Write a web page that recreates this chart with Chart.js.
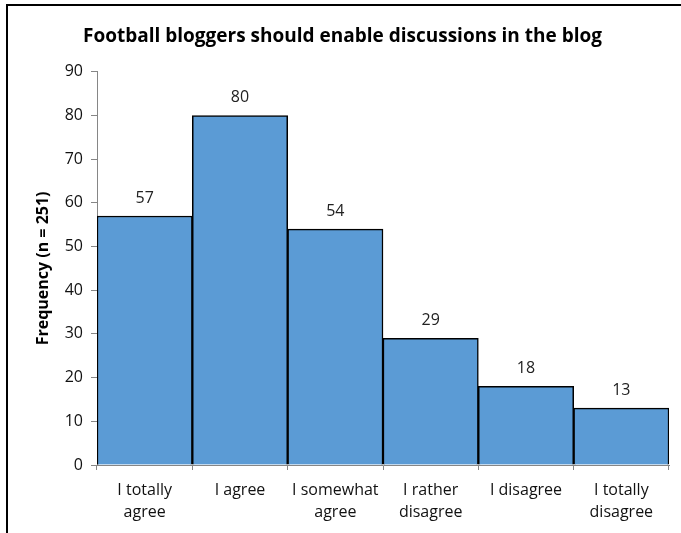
<!DOCTYPE html>
<html>
<head>
<meta charset="utf-8">
<script src="https://cdn.jsdelivr.net/npm/chart.js@4"></script>
<style>
  html, body { margin: 0; padding: 0; background: #fff; }
  #wrap { position: relative; width: 681px; height: 533px; }
  #frame { position: absolute; left: 6px; top: 4px; right: 0; bottom: 0;
           border-left: 2px solid #000; border-top: 2px solid #000; pointer-events: none; }
</style>
</head>
<body>
<div id="wrap">
  <canvas id="canvas" width="681" height="533"></canvas>
  <div id="frame"></div>
</div>
<script>
// answers and how many people gave each one
const categories = [["I totally", "agree"], "I agree", ["I somewhat", "agree"], ["I rather", "disagree"], "I disagree", ["I totally", "disagree"]];
const counts = [57, 80, 54, 29, 18, 13];
const yTicks = [0, 10, 20, 30, 40, 50, 60, 70, 80, 90];

const FONT = "'Open Sans', sans-serif";
const AXIS = '#868686';

// write each count above its bar
const valueLabels = {
    id: 'valueLabels',
    afterDatasetsDraw(chart) {
        const ctx = chart.ctx;
        const meta = chart.getDatasetMeta(0);
        ctx.save();
        ctx.font = '16px ' + FONT;
        ctx.fillStyle = '#222';
        ctx.textAlign = 'center';
        ctx.textBaseline = 'middle';
        meta.data.forEach((bar, i) => {
            ctx.fillText(String(counts[i]), bar.x, bar.y - 18);
        });
        ctx.restore();
    }
};

const ctx = document.getElementById('canvas').getContext('2d');

const myChart = new Chart(ctx, {
    type: 'bar',
    data: {
        labels: categories,
        datasets: [{
            data: counts,
            backgroundColor: '#5B9BD5',
            borderColor: '#000',
            borderWidth: 1.5,
            barPercentage: 1,
            categoryPercentage: 1
        }]
    },
    options: {
        responsive: false,
        animation: false,
        layout: { padding: { top: 5, right: 12, left: 16, bottom: 0 } },
        plugins: {
            legend: { display: false },
            tooltip: { enabled: false },
            title: {
                display: true,
                text: 'Football bloggers should enable discussions in the blog',
                color: '#000',
                font: { family: FONT, size: 19, weight: 'bold' },
                padding: { top: 20, bottom: 24 }
            }
        },
        scales: {
            x: {
                grid: { display: true, drawOnChartArea: false, offset: true, tickLength: 5, color: AXIS },
                border: { color: AXIS, width: 1 },
                ticks: { color: '#111', font: { family: FONT, size: 16, lineHeight: 1.38 }, maxRotation: 0, padding: 9 },
                afterFit(s) { s.height = 68; }
            },
            y: {
                min: 0,
                max: 90,
                afterBuildTicks(s) { s.ticks = yTicks.map(v => ({ value: v })); },
                grid: { display: true, drawOnChartArea: false, tickLength: 6, color: AXIS },
                border: { color: AXIS, width: 1 },
                ticks: { color: '#111', font: { family: FONT, size: 16 }, padding: 8 },
                title: {
                    display: true,
                    text: 'Frequency (n = 251)',
                    color: '#000',
                    font: { family: FONT, size: 16, weight: 'bold' },
                    padding: { top: 18, bottom: 4 }
                },
                afterFit(s) { s.width = 81; }
            }
        }
    },
    plugins: [valueLabels]
});
</script>
</body>
</html>
